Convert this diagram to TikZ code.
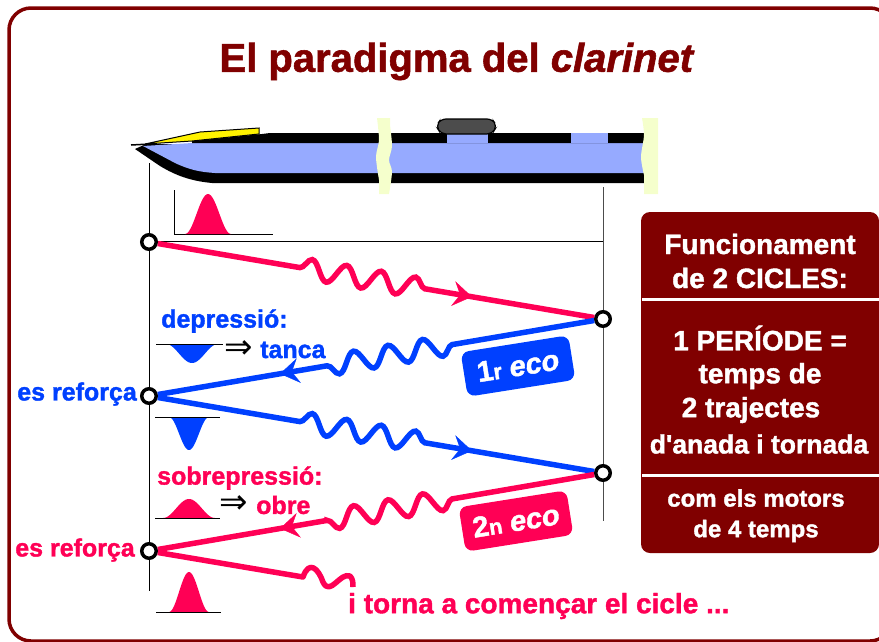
\documentclass[tikz,border=0pt]{standalone}
\usepackage{fontspec}
\setmainfont{Liberation Sans}[Ligatures=TeXOff,BoldFeatures={FakeBold=1.4},BoldItalicFeatures={FakeBold=1.4}]
\newfontfamily\fletxes{DejaVu Sans}
\usetikzlibrary{arrows.meta,decorations.pathmorphing,decorations.markings}
\definecolor{granat}{RGB}{128,0,0}
\definecolor{rosa}{RGB}{255,0,85}
\definecolor{blau}{RGB}{0,64,255}
\definecolor{tub}{RGB}{150,170,255}
\definecolor{crema}{RGB}{245,255,204}
\tikzset{
	eco/.style={circle, draw=black, fill=white, line width=3.5pt, minimum size=14.5pt, inner sep=0pt},
	ona/.style={line width=5.5pt, decorate, decoration={snake, amplitude=10pt, segment length=35pt, pre length=144pt, post length=171pt}},
	fletxa/.style={postaction={decorate, decoration={markings, mark=at position #1 with {\arrow{Stealth[length=19pt, width=25pt, inset=7pt]}}}}},
	eix/.style={line width=1pt, black},
	etiq/.style={font=\bfseries\fontsize{25}{25}\selectfont, inner sep=0pt},
	caixa/.style={rounded corners=8pt, minimum width=109pt, minimum height=45pt, rotate=9, text=white, inner sep=0pt, font=\bfseries\fontsize{29}{29}\selectfont},
	blanc/.style={text=white, font=\bfseries\fontsize{28}{28}\selectfont, inner sep=0pt},
	petit/.style={text=white, font=\bfseries\fontsize{24}{24}\selectfont, inner sep=0pt},
	implica/.style={font=\fletxes\fontsize{34}{34}\selectfont, inner sep=0pt}
}
\newcommand{\pols}[5]{\fill[#5] plot[domain={#1-#4}:{#1+#4}, samples=40, smooth] (\x, {#2-(#3)*(.5+.5*cos(180*(\x-#1)/#4))}) -- cycle;}
\begin{document}
\begin{tikzpicture}[x=1pt, y=-1pt]
	\useasboundingbox (0,0) rectangle (879,641);
	\draw[granat, line width=3.5pt, rounded corners=22pt] (9,8) rectangle (892,641);
	\node[font=\bfseries\fontsize{40}{40}\selectfont, text=granat, inner sep=0pt] (titol)at(457, 61.5) {El paradigma del \textit{clarinet}};

	% clarinet
	\fill[black] (135,149) -- (146,144) -- (644,144) -- (644,183) -- (212,183) .. controls (190,181) and (175,175) .. (160,166) -- cycle;
	\fill[tub] (143,146) -- (192,143) -- (644,143) -- (644,173) -- (215,173) .. controls (200,172) and (190,170) .. (175,163) -- cycle;
	\fill[black] (192,143) -- (192,141) -- (262,134) -- (270,133) -- (644,133) -- (644,143) -- cycle;
	\fill[tub] (447,133) rectangle (488,143);
	\fill[tub] (571,133) rectangle (608,143);
	\draw[black, line width=1pt, fill=yellow] (145,144) -- (200,132) -- (259,128) -- (259,134) -- (192,141) -- cycle;
	\draw[black, line width=1.5pt] (131,145) -- (150,144);
	\draw[black, line width=1.2pt, fill=black!70, rounded corners=5pt] (436,126) -- (441,119) -- (492,119) -- (497,126) -- (492,134) -- (441,134) -- cycle;
	\fill[crema] (377,118) -- (390,118) -- plot[smooth] coordinates {(390,125) (392,146) (389,160) (392,172) (389,194)} -- (379,194) -- plot[smooth] coordinates {(379,180) (376,157) (379,140) (377,118)} -- cycle;
	\fill[crema] (642,118) -- (658,118) -- (658,194) -- (644,194) -- plot[smooth] coordinates {(644,175) (641,157) (644,135) (642,118)} -- cycle;

	% eixos
	\coordinate (L0)at(149, 163);
	\coordinate (L1)at(149, 591);
	\coordinate (R0)at(603, 187);
	\coordinate (R1)at(603, 521);
	\draw[eix] (L0) -- (L1);
	\draw[eix, black!70] (R0) -- (R1);
	\draw[line width=1pt] (149,241) -- (603,241);
	\draw[line width=1pt] (174,190) -- (174,234) -- (273,234);

	\node[eco] (E1)at(149, 242) {};
	\node[eco] (E2)at(603, 319) {};
	\node[eco] (E3)at(149, 396) {};
	\node[eco] (E4)at(603, 473) {};
	\node[eco] (E5)at(149, 551) {};
	\coordinate (F1)at(303, 577);

	% trajectes
	\draw[ona, rosa] (E1) -- (E2);
	\path[fletxa=.72, color=rosa] (E1) -- (E2);
	\draw[ona, blau] (E2) -- (E3);
	\path[fletxa=.72, color=blau] (E2) -- (E3);
	\draw[ona, blau] (E3) -- (E4);
	\path[fletxa=.72, color=blau] (E3) -- (E4);
	\draw[ona, rosa] (E4) -- (E5);
	\path[fletxa=.72, color=rosa] (E4) -- (E5);
	\draw[rosa, line width=5.5pt, line join=round] (E5) -- (F1) .. controls (309,560) and (318,568) .. (323,582) .. controls (330,597) and (340,572) .. (350,576) .. controls (353,579) and (353,583) .. (353,587);

	% polsos
	\pols{208}{234}{40}{23}{rosa}
	\pols{192}{344}{-19}{26}{blau}
	\pols{189}{417}{-33}{20}{blau}
	\pols{189}{518}{19}{26}{rosa}
	\pols{189}{612}{40}{20}{rosa}
	\draw[line width=1pt] (156,344) -- (223,344);
	\draw[line width=1pt] (155,417) -- (220,417);
	\draw[line width=1pt] (155,518) -- (220,518);
	\draw[line width=1pt] (156,612) -- (221,612);

	% rotuls
	\node[etiq, text=blau, anchor=west] (dep)at(161, 321) {depressió:};
	\node[etiq, text=blau, anchor=west] (tan)at(260, 350) {tanca};
	\node[etiq, text=blau, anchor=east] (re1)at(137, 394) {es reforça};
	\node[etiq, text=rosa, anchor=west] (sob)at(157, 478) {sobrepressió:};
	\node[etiq, text=rosa, anchor=west] (obr)at(256, 505) {obre};
	\node[etiq, text=rosa, anchor=east] (re2)at(135, 550) {es reforça};
	\node[etiq, text=rosa, anchor=west, font=\bfseries\fontsize{28}{28}\selectfont] (tor)at(348, 606) {i torna a començar el cicle ...};
	\node[implica] (im1)at(239, 350) {⇒};
	\node[implica] (im2)at(234, 505) {⇒};
	\node[caixa, fill=blau] (C1)at(518, 366) {1{\fontsize{22}{22}\selectfont r} \textit{eco}};
	\node[caixa, fill=rosa] (C2)at(516, 521) {2{\fontsize{22}{22}\selectfont n} \textit{eco}};

	% quadre
	\fill[granat, rounded corners=9pt] (641,212) rectangle (879,553);
	\draw[white, line width=3pt] (642,299) -- (879,299);
	\draw[white, line width=3pt] (642,475) -- (879,475);
	\node[blanc] (q1)at(760, 244) {Funcionament};
	\node[blanc] (q2)at(760, 278) {de 2 CICLES:};
	\node[blanc] (q3)at(760, 338) {1 PERÍODE =};
	\node[blanc] (q4)at(760, 376) {temps de};
	\node[blanc] (q5)at(751, 410) {2 trajectes};
	\node[blanc, font=\bfseries\fontsize{26.5}{26.5}\selectfont] (q6)at(759, 444) {d'anada i tornada};
	\node[petit] (q7)at(756, 498) {com els motors};
	\node[petit] (q8)at(756, 531) {de 4 temps};
\end{tikzpicture}
\end{document}
